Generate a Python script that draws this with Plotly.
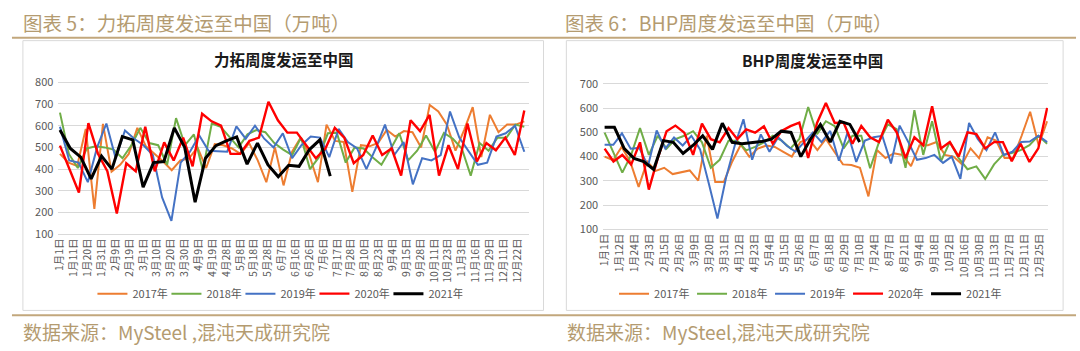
import numpy as np
import plotly.graph_objects as go

W, H = 1080, 351
FONT = "Noto Sans CJK SC"

# ---------------- data : Rio Tinto (力拓) ----------------
rio_ticks = ["1月1日", "1月11日", "1月20日", "1月31日", "2月9日", "2月19日", "3月1日", "3月10日",
             "3月20日", "3月30日", "4月9日", "4月19日", "4月28日", "5月8日", "5月18日", "5月28日",
             "6月7日", "6月16日", "6月26日", "7月6日", "7月17日", "7月28日", "8月10日", "8月23日",
             "9月4日", "9月15日", "9月28日", "10月11日", "10月23日", "11月3日", "11月16日",
             "11月29日", "12月11日", "12月22日"]
rio_last_cat = 67        # last category index of a full year
rio_2021_last_cat = 39   # 2021 data runs to early July

rio_2017 = [470, 430, 415, 585, 217, 608, 388, 420, 470, 590, 505, 470, 435, 395, 440, 450, 500, 405,
            515, 510, 495, 470, 520, 440, 340, 500, 325, 480, 545, 465, 340, 605, 530, 525, 295, 510,
            505, 520, 580, 550, 575, 570, 500, 695, 665, 605, 485, 580, 685, 455, 650, 570, 605, 605, 620]
rio_2018 = [660, 470, 405, 495, 505, 500, 490, 450, 510, 590, 520, 510, 420, 635, 510, 560, 395, 610,
            595, 550, 500, 560, 580, 570, 520, 490, 465, 545, 400, 455, 565, 568, 430, 500, 495, 455,
            420, 490, 565, 440, 485, 555, 480, 567, 540, 495, 370, 520, 485, 545, 545, 605, 595]
rio_2019 = [595, 440, 430, 340, 500, 610, 450, 578, 540, 510, 465, 270, 162, 430, 480, 555, 484, 482,
            480, 597, 540, 600, 540, 500, 565, 450, 510, 550, 545, 455, 585, 525, 495, 400, 495, 605,
            465, 525, 330, 450, 440, 465, 665, 545, 480, 420, 430, 550, 565, 600, 480]
rio_2020 = [508, 400, 292, 612, 472, 390, 196, 427, 390, 595, 390, 523, 440, 545, 413, 655, 620, 600,
            470, 470, 530, 545, 710, 625, 568, 568, 510, 450, 494, 590, 545, 427, 465, 555, 465, 495,
            370, 625, 575, 650, 370, 510, 400, 610, 435, 520, 487, 545, 465, 670]
rio_2021 = [580, 495, 455, 355, 460, 400, 550, 535, 317, 430, 435, 590, 500, 248, 450, 508, 530, 548,
            423, 520, 420, 365, 418, 413, 490, 535, 368]

# ---------------- data : BHP ----------------
bhp_ticks = ["1月1日", "1月12日", "1月24日", "2月3日", "2月15日", "2月26日", "3月9日", "3月20日",
             "3月31日", "4月12日", "4月23日", "5月4日", "5月15日", "5月26日", "6月7日", "6月18日",
             "6月29日", "7月10日", "7月24日", "8月7日", "8月21日", "9月4日", "9月18日", "10月2日",
             "10月16日", "10月30日", "11月13日", "11月27日", "12月11日", "12月25日"]
bhp_last_cat = 59
bhp_2021_last_cat = 34

bhp_2017 = [400, 385, 440, 380, 275, 380, 341, 354, 328, 335, 343, 301, 486, 295, 295, 380, 449, 400,
            433, 446, 440, 420, 400, 460, 473, 427, 473, 420, 368, 365, 354, 236, 427, 394, 414, 407,
            361, 447, 447, 460, 407, 400, 368, 434, 394, 480, 466, 394, 394, 486, 585, 447, 546]
bhp_2018 = [499, 420, 334, 407, 518, 407, 486, 433, 472, 486, 505, 459, 354, 387, 466, 466, 426, 440,
            459, 486, 466, 434, 473, 605, 493, 546, 526, 434, 486, 486, 352, 460, 533, 513, 354, 592,
            407, 546, 381, 460, 394, 348, 360, 308, 368, 407, 415, 427, 447, 486, 453]
bhp_2019 = [449, 449, 496, 433, 436, 361, 508, 433, 479, 446, 486, 430, 290, 145, 314, 446, 554, 387,
            492, 420, 480, 445, 420, 460, 500, 460, 506, 383, 500, 378, 466, 480, 486, 372, 528, 460,
            387, 394, 407, 374, 400, 308, 539, 473, 427, 500, 407, 420, 460, 462, 486, 460]
bhp_2020 = [433, 380, 407, 367, 459, 264, 393, 505, 528, 499, 407, 536, 472, 459, 518, 472, 512, 499,
            525, 453, 506, 526, 540, 394, 539, 621, 539, 541, 453, 526, 480, 460, 552, 500, 394, 480,
            447, 608, 434, 460, 400, 500, 493, 434, 460, 460, 381, 453, 378, 434, 601]
bhp_2021 = [521, 521, 433, 393, 380, 347, 466, 459, 413, 446, 486, 430, 538, 459, 453, 459, 462, 472,
            505, 500, 400, 473, 532, 460, 546, 533, 460]

years = ["2017年", "2018年", "2019年", "2020年", "2021年"]
colors = ["#ED7D31", "#70AD47", "#4472C4", "#FF0000", "#000000"]
widths = [2, 2, 2, 2.4, 3]


def px(x):
    return x / W


def py(y):
    return 1 - y / H


fig = go.Figure()

rio_series = [rio_2017, rio_2018, rio_2019, rio_2020, rio_2021]
bhp_series = [bhp_2017, bhp_2018, bhp_2019, bhp_2020, bhp_2021]

for i, vals in enumerate(rio_series):
    last = rio_2021_last_cat if i == 4 else rio_last_cat
    xs = np.linspace(0, last, len(vals))
    fig.add_trace(go.Scatter(x=xs, y=vals, mode="lines", name=years[i],
                             line=dict(color=colors[i], width=widths[i]),
                             xaxis="x", yaxis="y", legend="legend", hoverinfo="skip"))
for i, vals in enumerate(bhp_series):
    last = bhp_2021_last_cat if i == 4 else bhp_last_cat
    xs = np.linspace(0, last, len(vals))
    fig.add_trace(go.Scatter(x=xs, y=vals, mode="lines", name=years[i],
                             line=dict(color=colors[i], width=widths[i]),
                             xaxis="x2", yaxis="y2", legend="legend2", hoverinfo="skip"))

tickfont = dict(family=FONT, size=11, color="#595959")
grid = "#D9D9D9"

tan_line = "#C2A77C"
tan_text = "#B49B70"

fig.update_layout(
    width=W, height=H, autosize=False,
    margin=dict(l=0, r=0, t=0, b=0),
    paper_bgcolor="white", plot_bgcolor="white",
    font=dict(family=FONT, color="#595959"),
    xaxis=dict(domain=[px(51.7), px(525)], range=[-0.23, 67.62],
               tickmode="array", tickvals=list(range(0, 68, 2)), ticktext=rio_ticks,
               tickangle=-90, tickfont=dict(family=FONT, size=10.5, color="#595959"),
               showgrid=False, zeroline=False, showline=False, ticks=""),
    yaxis=dict(domain=[py(236.8), py(76.2)], range=[95, 805],
               tickmode="array", tickvals=[100, 200, 300, 400, 500, 600, 700, 800],
               tickfont=tickfont, gridcolor=grid, gridwidth=1, zeroline=False,
               showline=False, ticks="", ticklabelstandoff=4),
    xaxis2=dict(domain=[px(600), px(1047.7)], range=[-0.2, 59.1], anchor="y2",
                tickmode="array", tickvals=list(range(0, 60, 2)), ticktext=bhp_ticks,
                tickangle=-90, tickfont=dict(family=FONT, size=10.5, color="#595959"),
                showgrid=False, zeroline=False, showline=False, ticks=""),
    yaxis2=dict(domain=[py(231.8), py(77.8)], range=[95, 705], anchor="x2",
                tickmode="array", tickvals=[100, 200, 300, 400, 500, 600, 700],
                tickfont=tickfont, gridcolor=grid, gridwidth=1, zeroline=False,
                showline=False, ticks="", ticklabelstandoff=4),
    legend=dict(orientation="h", x=px(86), xanchor="left", y=py(297.5), yanchor="middle",
                font=dict(family=FONT, size=11, color="#595959"),
                entrywidth=29, entrywidthmode="pixels", bgcolor="rgba(0,0,0,0)"),
    legend2=dict(orientation="h", x=px(611), xanchor="left", y=py(297.5), yanchor="middle",
                 font=dict(family=FONT, size=11, color="#595959"),
                 entrywidth=33, entrywidthmode="pixels", bgcolor="rgba(0,0,0,0)"),
    showlegend=True,
)

shapes = [
    dict(type="line", xref="paper", yref="paper", x0=px(5), x1=px(1076), y0=py(31), y1=py(31),
         line=dict(color=tan_line, width=2)),
    dict(type="line", xref="paper", yref="paper", x0=px(5), x1=px(1076), y0=py(320), y1=py(320),
         line=dict(color=tan_line, width=2)),
    dict(type="rect", xref="paper", yref="paper", x0=px(16), x1=px(540), y0=py(315), y1=py(34),
         line=dict(color="#D9D9D9", width=1), layer="below"),
    dict(type="rect", xref="paper", yref="paper", x0=px(563), x1=px(1063), y0=py(315), y1=py(34),
         line=dict(color="#D9D9D9", width=1), layer="below"),
]
fig.update_layout(shapes=shapes)

ann = [
    dict(text="图表 5：力拓周度发运至中国（万吨）", x=px(14), y=py(15), xanchor="left", yanchor="middle",
         font=dict(family=FONT, size=19.5, color=tan_text)),
    dict(text="图表 6：BHP周度发运至中国（万吨）", x=px(560), y=py(15), xanchor="left", yanchor="middle",
         font=dict(family=FONT, size=19.5, color=tan_text)),
    dict(text="<b>力拓周度发运至中国</b>", x=px(279), y=py(53), xanchor="center", yanchor="middle",
         font=dict(family=FONT, size=15.5, color="#1a1a1a")),
    dict(text="<b>BHP周度发运至中国</b>", x=px(811), y=py(54), xanchor="center", yanchor="middle",
         font=dict(family=FONT, size=15.5, color="#1a1a1a")),
    dict(text="数据来源：MySteel ,混沌天成研究院", x=px(14), y=py(337), xanchor="left", yanchor="middle",
         font=dict(family=FONT, size=19, color=tan_text)),
    dict(text="数据来源：MySteel,混沌天成研究院", x=px(562), y=py(337), xanchor="left", yanchor="middle",
         font=dict(family=FONT, size=19, color=tan_text)),
]
for a in ann:
    a.update(xref="paper", yref="paper", showarrow=False)
fig.update_layout(annotations=ann)

fig.write_html("out.html")
